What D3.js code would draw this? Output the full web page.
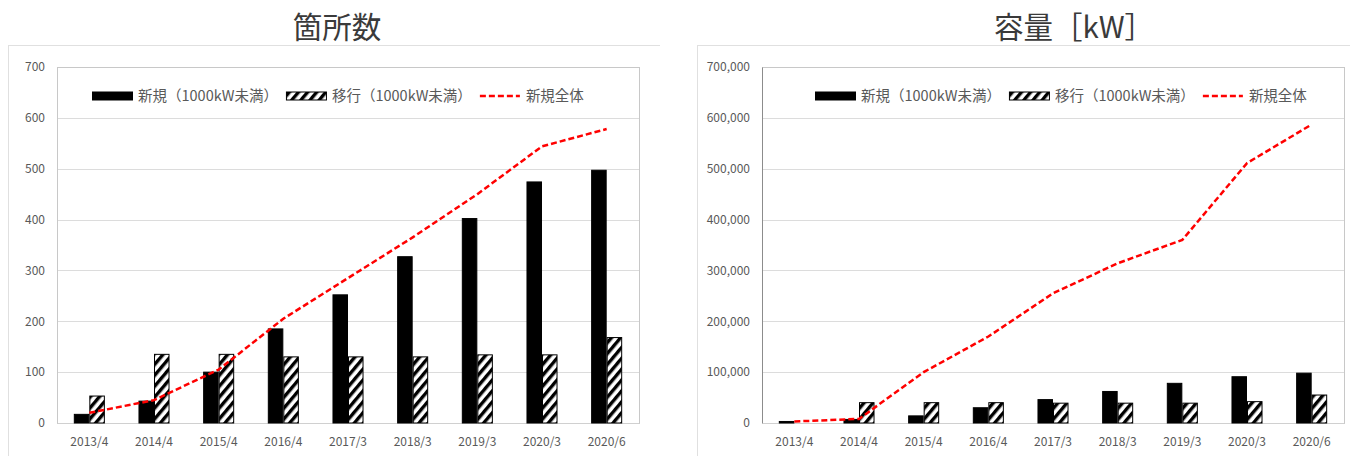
<!DOCTYPE html>
<html>
<head>
<meta charset="utf-8">
<script src="https://cdn.jsdelivr.net/npm/d3@7"></script>
<style>
  body { margin: 0; background: #fff; }
  svg { display: block; font-family: "Noto Sans CJK JP", "Noto Sans", sans-serif; }
</style>
</head>
<body>
<svg id="chart" width="1355" height="456"></svg>
<script>
const categories = ["2013/4", "2014/4", "2015/4", "2016/4", "2017/3", "2018/3", "2019/3", "2020/3", "2020/6"];
const seriesNames = ["新規（1000kW未満）", "移行（1000kW未満）", "新規全体"];

// 箇所数
const countNew = [17, 43, 100, 185, 252, 327, 402, 474, 497];
const countMigrated = [53, 135, 135, 130, 130, 130, 134, 134, 168];
const countNewTotal = [20, 45, 105, 205, 285, 365, 450, 544, 578];
const countTicks = [0, 100, 200, 300, 400, 500, 600, 700];

// 容量 [kW]
const capNew = [3000, 7000, 14000, 30000, 46000, 62000, 78000, 91000, 98000];
const capMigrated = [0, 40000, 40000, 40000, 39000, 39000, 39000, 42000, 55000];
const capNewTotal = [3000, 8000, 100000, 170000, 255000, 314000, 360000, 511000, 587000];
const capTicks = [0, 100000, 200000, 300000, 400000, 500000, 600000, 700000];

const svg = d3.select("#chart");

const defs = svg.append("defs");
const pattern = defs.append("pattern")
  .attr("id", "hatch")
  .attr("patternUnits", "userSpaceOnUse")
  .attr("width", 7)
  .attr("height", 7)
  .attr("patternTransform", "rotate(40)");
pattern.append("rect").attr("width", 7).attr("height", 7).attr("fill", "#fff");
pattern.append("rect").attr("width", 3.4).attr("height", 7).attr("fill", "#000");

function drawChart(opts) {
  const g = svg.append("g");

  // outer frame (top and left edges only visible)
  g.append("line")
    .attr("x1", opts.frameLeft).attr("x2", opts.frameRight)
    .attr("y1", 45.5).attr("y2", 45.5)
    .attr("stroke", "#e0e0e0");
  g.append("line")
    .attr("x1", opts.frameLeft + 0.5).attr("x2", opts.frameLeft + 0.5)
    .attr("y1", 45).attr("y2", 456)
    .attr("stroke", "#e0e0e0");

  g.append("text")
    .attr("x", opts.titleX)
    .attr("y", 38)
    .attr("text-anchor", "middle")
    .attr("font-size", 29.5)
    .attr("fill", "#3a3a3a")
    .text(opts.title);

  const x0 = d3.scaleBand()
    .domain(categories)
    .range([opts.left, opts.right])
    .paddingInner(0.52)
    .paddingOuter(0.26);

  const x1 = d3.scaleBand()
    .domain([0, 1])
    .range([0, x0.bandwidth()]);

  const y = d3.scaleLinear()
    .domain([0, opts.ticks[opts.ticks.length - 1]])
    .range([423, 67]);

  // gridlines
  g.append("g")
    .selectAll("line")
    .data(opts.ticks)
    .join("line")
    .attr("x1", opts.left).attr("x2", opts.right)
    .attr("y1", d => Math.round(y(d)) + 0.5)
    .attr("y2", d => Math.round(y(d)) + 0.5)
    .attr("stroke", "#dcdcdc");

  // plot box
  g.append("rect")
    .attr("x", opts.left + 0.5)
    .attr("y", 67.5)
    .attr("width", opts.right - opts.left)
    .attr("height", 423 - 67)
    .attr("fill", "none")
    .attr("stroke", "#c8c8c8");

  const yAxis = g.append("g")
    .attr("transform", `translate(${opts.left},0)`)
    .call(d3.axisLeft(y).tickValues(opts.ticks).tickSize(0).tickPadding(12)
      .tickFormat(opts.format));
  yAxis.select(".domain").attr("stroke", opts.axisColor);
  yAxis.selectAll("text")
    .attr("font-size", 12)
    .attr("fill", "#595959")
    .attr("font-family", "\"Noto Sans CJK JP\", sans-serif");

  const xAxis = g.append("g")
    .attr("transform", "translate(0,423)")
    .call(d3.axisBottom(x0).tickSize(0).tickPadding(14));
  xAxis.select(".domain").attr("stroke", "#d0d0d0");
  xAxis.selectAll("text")
    .attr("font-size", 12)
    .attr("fill", "#595959")
    .attr("font-family", "\"Noto Sans CJK JP\", sans-serif");

  // bars
  const rows = categories.map((c, i) => ({ cat: c, vals: [opts.newVals[i], opts.migVals[i]] }));
  const groups = g.append("g")
    .selectAll("g")
    .data(rows)
    .join("g")
    .attr("transform", d => `translate(${x0(d.cat)},0)`);

  groups.selectAll("rect")
    .data(d => d.vals.map((v, k) => ({ k: k, v: v })).filter(d => d.v > 0))
    .join("rect")
    .attr("x", d => x1(d.k) + 0.5)
    .attr("y", d => y(d.v))
    .attr("width", x1.bandwidth() - 1)
    .attr("height", d => y(0) - y(d.v))
    .attr("fill", d => d.k === 0 ? "#000" : "url(#hatch)")
    .attr("stroke", "#000")
    .attr("stroke-width", 1);

  // total line
  const line = d3.line()
    .x((d, i) => x0(categories[i]) + x0.bandwidth() / 2)
    .y(d => y(d));

  g.append("path")
    .datum(opts.totalVals)
    .attr("d", line)
    .attr("fill", "none")
    .attr("stroke", "#ff0000")
    .attr("stroke-width", 2.5)
    .attr("stroke-dasharray", "6,3");

  // legend
  const legend = g.append("g").attr("transform", `translate(${opts.legendX},96)`);
  let cx = 0;
  seriesNames.forEach((name, k) => {
    if (k === 2) {
      legend.append("line")
        .attr("x1", cx).attr("x2", cx + 40)
        .attr("y1", 0).attr("y2", 0)
        .attr("stroke", "#ff0000")
        .attr("stroke-width", 2.5)
        .attr("stroke-dasharray", "6,3");
    } else {
      legend.append("rect")
        .attr("x", cx + 0.5).attr("y", -4)
        .attr("width", 40).attr("height", 8)
        .attr("fill", k === 0 ? "#000" : "url(#hatch)")
        .attr("stroke", "#000");
    }
    cx += 46;
    const t = legend.append("text")
      .attr("x", cx)
      .attr("y", 5)
      .attr("font-size", 14.5)
      .attr("fill", "#595959")
      .text(name);
    cx += t.node().getComputedTextLength() + 8;
  });
}

drawChart({
  title: "箇所数",
  titleX: 337,
  frameLeft: 8,
  frameRight: 660,
  left: 57,
  right: 639,
  ticks: countTicks,
  format: d3.format("d"),
  axisColor: "#c8c8c8",
  newVals: countNew,
  migVals: countMigrated,
  totalVals: countNewTotal,
  legendX: 92
});

drawChart({
  title: "容量［kW］",
  titleX: 1074,
  frameLeft: 697,
  frameRight: 1350,
  left: 762,
  right: 1344,
  ticks: capTicks,
  format: d3.format(","),
  axisColor: "#8c8c8c",
  newVals: capNew,
  migVals: capMigrated,
  totalVals: capNewTotal,
  legendX: 815
});
</script>
</body>
</html>
